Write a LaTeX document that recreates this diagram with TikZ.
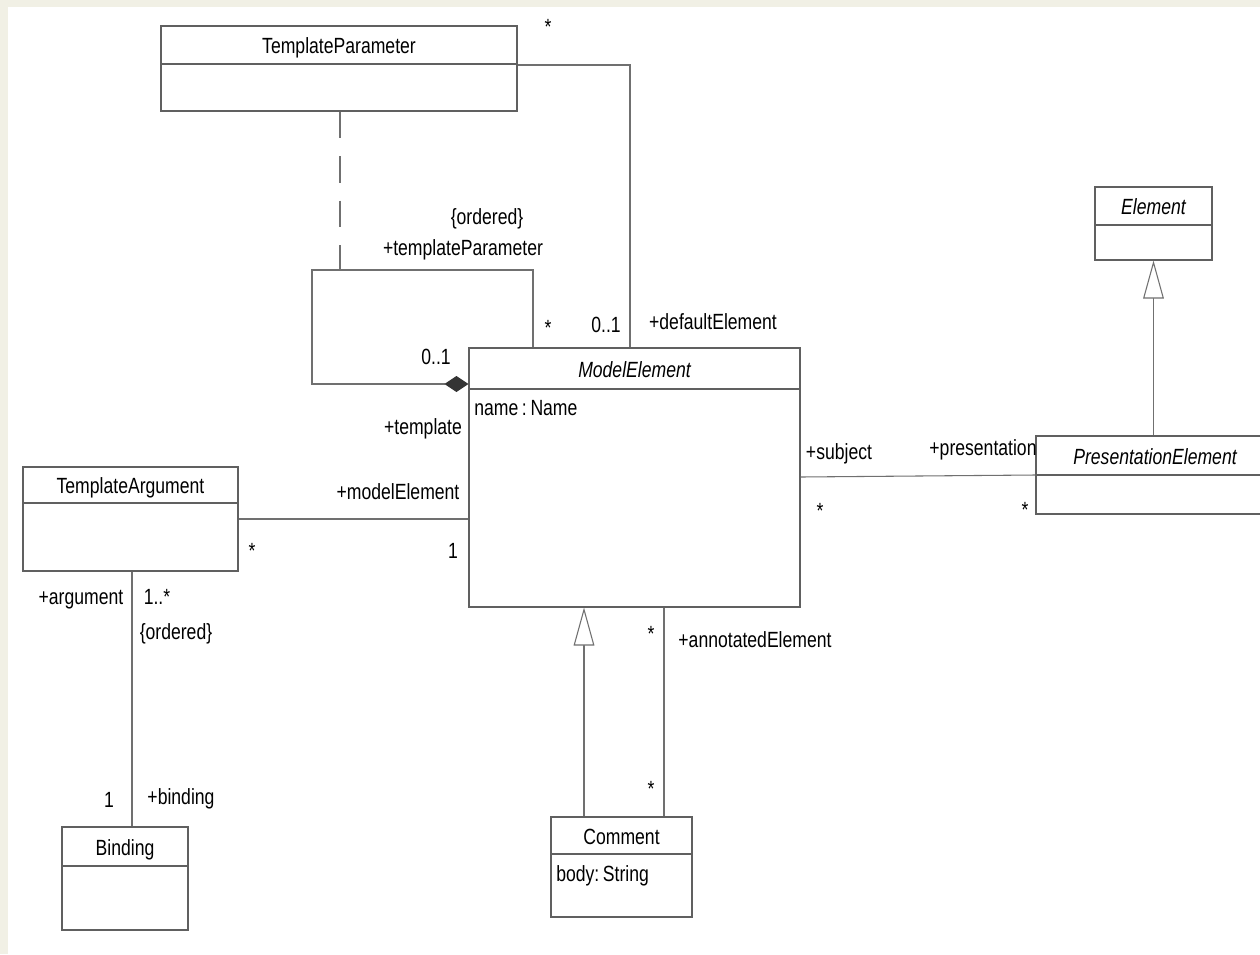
\documentclass[tikz,border=0pt]{standalone}
\usepackage{fontspec}
\setmainfont{Liberation Sans}[FakeStretch=0.8]
\usetikzlibrary{arrows.meta,fit}

\definecolor{pagebg}{RGB}{241,240,229}
\definecolor{umlline}{RGB}{112,112,112}
\definecolor{umlframe}{RGB}{96,96,96}
\definecolor{diamondfill}{RGB}{52,52,52}

\newcommand\umlfont{\fontsize{16.5pt}{19pt}\selectfont}

\tikzset{
  umlrect/.style={draw=umlframe, line width=0.8pt, inner sep=0pt, fill=white},
  umldivider/.style={draw=umlframe, line width=0.8pt},
  umltext/.style={inner sep=0pt, text height=11.8pt, text depth=0pt, font=\umlfont, text=black},
  lbl/.style={umltext},
  assoc/.style={draw=umlline, line width=0.8pt},
  realize/.style={assoc, dash pattern=on 19.9pt off 13.5pt},
  gen/.style={assoc, -{Triangle[open, length=28.5pt, width=15.5pt, fill=white]}},
  compose/.style={assoc, -{Diamond[length=18pt, width=12pt, fill=diamondfill, color=diamondfill]}},
}

% class box: name, x1, y1, x2, y2, divider y, title
\newcommand\umlclass[7]{%
  \node[umlrect, fit={(#2,#3) (#4,#5)}] (#1) {};
  \draw[umldivider] (#1.west |- 0,#6) -- (#1.east |- 0,#6);
  \node[umltext] (#1-title) at ({(#2+#4)/2},{(#3+#6)/2+1}) {#7};
}

\begin{document}
\begin{tikzpicture}[x=0.75pt, y=-0.75pt]
  % page and its tinted margins
  \useasboundingbox (0,0) rectangle (1260,954);
  \fill[white] (0,0) rectangle (1260,954);
  \fill[pagebg] (0,0) rectangle (1260,7);
  \fill[pagebg] (0,0) rectangle (8,954);

  % classes
  \umlclass{tp}{161}{26}{517}{111}{64}{TemplateParameter}
  \umlclass{el}{1095}{187}{1212}{260}{225}{\itshape Element}
  \umlclass{me}{469}{348}{800}{607}{389}{\itshape ModelElement}
  \umlclass{ta}{23}{467}{238}{571}{503}{TemplateArgument}
  \umlclass{pe}{1036}{436}{1274}{514}{475}{\itshape PresentationElement}
  \umlclass{bi}{62}{827}{188}{930}{866}{Binding}
  \umlclass{co}{551}{817}{692}{917}{854}{Comment}

  % attributes
  \node[umltext, anchor=west] (me-attr) at (474,408) {name\,:\,Name};
  \node[umltext, anchor=west] (co-attr) at (556,874) {body:\,String};

  % bends of the template self association
  \coordinate (loopcorner) at (312,270);
  \coordinate (loopjoin) at (340,270);

  % TemplateParameter to ModelElement (default element)
  \draw[assoc] (tp.east |- 0,65) -| (me.north -| 630,0);
  % TemplateParameter attached to the self association
  \draw[realize] (tp.south -| 340,0) -- (loopjoin);
  % ModelElement template / templateParameter
  \draw[compose] (me.north -| 533,0) |- (loopcorner) |- (me.west |- 0,384);
  % TemplateArgument to ModelElement
  \draw[assoc] (ta.east |- 0,519) -- (me.west |- 0,519);
  % TemplateArgument to Binding
  \draw[assoc] (ta.south -| 132,0) -- (bi.north -| 132,0);
  % ModelElement to PresentationElement
  \draw[assoc] (me.east |- 0,477) -- (pe.west |- 0,475);
  % generalizations
  \draw[gen] (pe.north -| el.south) -- (el.south);
  \draw[gen] (co.north -| 584,0) -- (me.south -| 584,0);
  % Comment to ModelElement (annotated element)
  \draw[assoc] (co.north -| 664,0) -- (me.south -| 664,0);

  % association end labels
  \node[lbl] (m-tp-top) at (548,27) {*};
  \node[lbl] (c-ordered-tp) at (487,217) {\{ordered\}};
  \node[lbl] (r-tparam) at (463,248) {+templateParameter};
  \node[lbl] (m-tparam) at (548,328) {*};
  \node[lbl] (m-default) at (606,325) {0..1};
  \node[lbl] (r-default) at (713,322) {+defaultElement};
  \node[lbl] (m-template) at (436,357) {0..1};
  \node[lbl] (r-template) at (423,427) {+template};
  \node[lbl] (r-modelel) at (398,492) {+modelElement};
  \node[lbl] (m-ta-me) at (252,551) {*};
  \node[lbl] (m-me-ta) at (453,551) {1};
  \node[lbl] (r-argument) at (81,597) {+argument};
  \node[lbl] (m-argument) at (157,597) {1..*};
  \node[lbl] (c-ordered-ta) at (176,632) {\{ordered\}};
  \node[lbl] (m-binding) at (109,800) {1};
  \node[lbl] (r-binding) at (181,797) {+binding};
  \node[lbl] (r-subject) at (839,452) {+subject};
  \node[lbl] (m-subject) at (820,511) {*};
  \node[lbl] (r-presentation) at (983,448) {+presentation};
  \node[lbl] (m-presentation) at (1025,510) {*};
  \node[lbl] (m-annot-top) at (651,634) {*};
  \node[lbl] (r-annotated) at (755,640) {+annotatedElement};
  \node[lbl] (m-annot-bot) at (651,789) {*};
\end{tikzpicture}
\end{document}
